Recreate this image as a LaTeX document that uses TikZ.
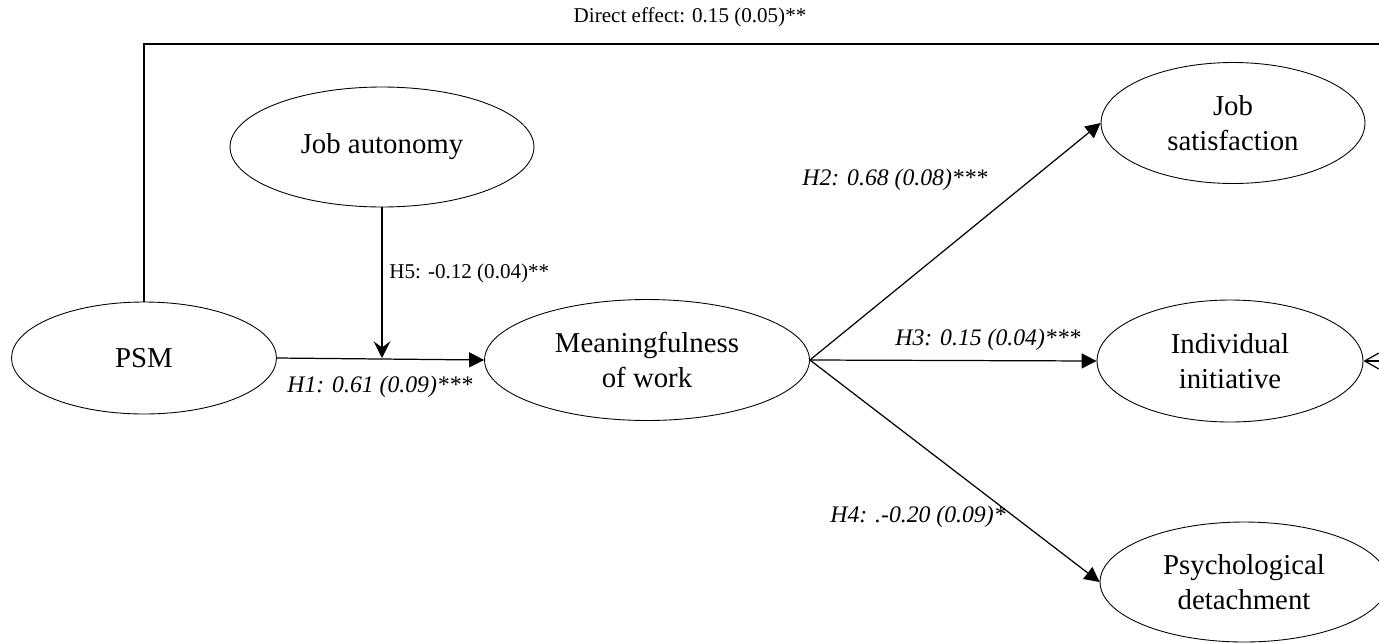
\documentclass[tikz,border=0pt]{standalone}
\usepackage{fontspec}
\setmainfont{Liberation Serif}
\usetikzlibrary{arrows.meta,shapes.geometric}

\begin{document}
\begin{tikzpicture}[x=0.02cm,y=-0.02cm,
    var/.style={draw,ellipse,line width=0.5pt,inner sep=0pt,align=center,font=\fontsize{16.4}{19.8}\selectfont},
    lab/.style={inner sep=0pt,font=\fontsize{13.5}{16}\selectfont\itshape},
    labup/.style={inner sep=0pt,font=\fontsize{12}{14}\selectfont},
    pfeil/.style={line width=0.7pt,-{Triangle[length=8.5pt,width=8.5pt]}},
    modpfeil/.style={line width=0.7pt,-{Stealth[length=9.5pt,width=9.5pt,inset=3.5pt]}},
    direct/.style={line width=1.5pt}]

    % marco
    \useasboundingbox (0,0) rectangle (1379,643);
    \clip (0,0) rectangle (1379,643);

    % variables
    \node[var,minimum width=5.3cm,minimum height=2.24cm] (psm) at (144,358) {PSM};
    \node[var,minimum width=6.08cm,minimum height=2.4cm] (aut) at (382,147) {Job autonomy};
    \node[var,minimum width=6.5cm,minimum height=2.42cm] (mean) at (647,360) {Meaningfulness\\of work};
    \node[var,minimum width=5.28cm,minimum height=2.42cm] (sat) at (1233,123) {Job\\satisfaction};
    \node[var,minimum width=5.32cm,minimum height=2.44cm] (init) at (1230,361) {Individual\\initiative};
    \node[var,minimum width=5.76cm,minimum height=2.4cm] (det) at (1244,582) {Psychological\\detachment};

    % efecto directo
    \coordinate (dr) at (1420,44);
    \coordinate (dr2) at (1420,361);
    \draw[direct] (psm.north) |- (dr) -- (dr2);
    \draw[line width=0.7pt,-{Straight Barb[length=8pt,width=9pt]}] (dr2) -- (init.east);
    \node[labup] (ldir) at (690,17) {Direct effect: 0.15 (0.05)**};

    % H1 y moderador
    \draw[pfeil] (psm.east) -- (mean.west);
    \coordinate (mod) at (aut.south |- psm.east);
    \draw[modpfeil] (aut.south) -- (mod);
    \node[labup,anchor=west] (lh5) at (389,273) {H5: -0.12 (0.04)**};
    \node[lab] (lh1) at (380,387) {H1: 0.61 (0.09)***};

    % resultados
    \draw[pfeil] (mean.east) -- (sat.west);
    \draw[pfeil] (mean.east) -- (init.west);
    \draw[pfeil] (mean.east) -- (det.west);
    \node[lab] (lh2) at (895,180) {H2: 0.68 (0.08)***};
    \node[lab] (lh3) at (988,340) {H3: 0.15 (0.04)***};
    \node[lab] (lh4) at (918,517) {H4: .-0.20 (0.09)*};
\end{tikzpicture}
\end{document}
